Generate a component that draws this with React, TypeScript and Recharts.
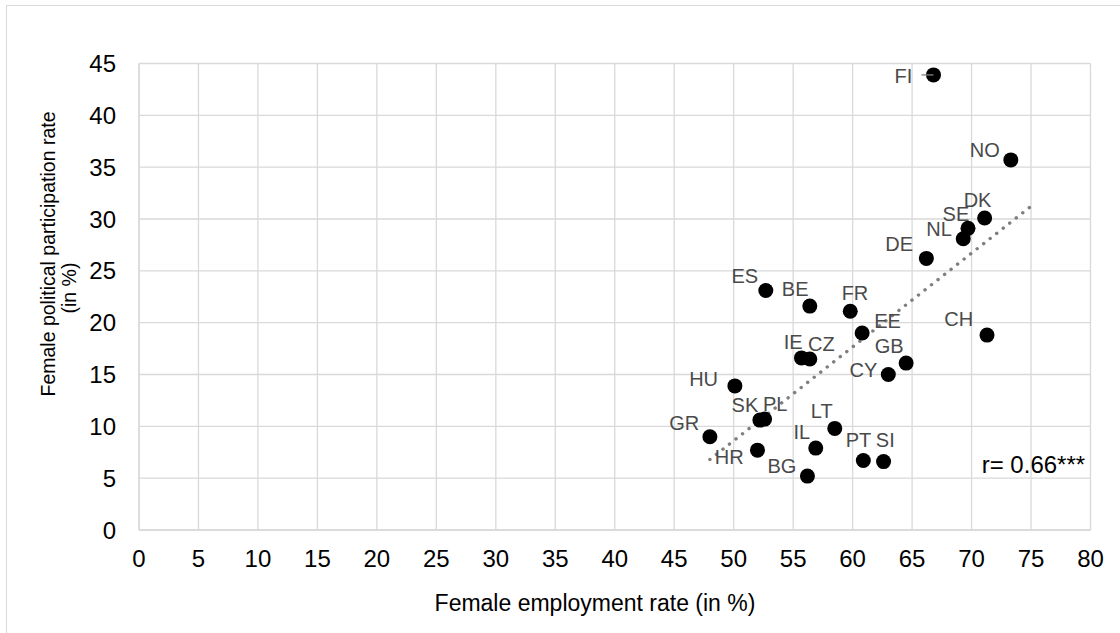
import React from 'react';
import {
  ScatterChart,
  Scatter,
  XAxis,
  YAxis,
  CartesianGrid,
  ReferenceLine,
  Label,
} from 'recharts';

// Country codes and their values (female employment rate, female political participation rate, both in %)
const countries = ['FI', 'NO', 'DK', 'SE', 'NL', 'DE', 'CH', 'GB', 'CY', 'EE', 'FR', 'PT', 'SI', 'BE', 'ES', 'IE', 'CZ', 'HU', 'SK', 'PL', 'GR', 'HR', 'LT', 'IL', 'BG'];
const employmentRate = [66.8, 73.3, 71.1, 69.7, 69.3, 66.2, 71.3, 64.5, 63.0, 60.8, 59.8, 60.9, 62.6, 56.4, 52.7, 55.7, 56.4, 50.1, 52.2, 52.6, 48.0, 52.0, 58.5, 56.9, 56.2];
const politicalRate = [43.9, 35.7, 30.1, 29.1, 28.1, 26.2, 18.8, 16.1, 15.0, 19.0, 21.1, 6.7, 6.6, 21.6, 23.1, 16.6, 16.5, 13.9, 10.6, 10.7, 9.0, 7.7, 9.8, 7.9, 5.2];

const xTicks = [0, 5, 10, 15, 20, 25, 30, 35, 40, 45, 50, 55, 60, 65, 70, 75, 80];
const yTicks = [0, 5, 10, 15, 20, 25, 30, 35, 40, 45];

// Linear trend line end points
const trendX = [48.0, 75.3];
const trendY = [6.8, 31.5];

const correlationText = 'r= 0.66***';
const xTitle = 'Female employment rate (in %)';
const yTitleLines = ['Female political participation rate', '(in %)'];

// Label placement relative to each marker: [left offset, baseline offset] in px
const labelPlacement: Record<string, [number, number]> = {
  FI: [-39, 7.6],
  NO: [-41, -3],
  DK: [-21, -10.6],
  SE: [-25.4, -7.8],
  NL: [-37, -2.5],
  DE: [-41, -7.3],
  CH: [-42.7, -9.3],
  GB: [-31.4, -10.3],
  CY: [-38.7, 2.7],
  EE: [12, -5],
  FR: [-8.6, -11],
  PT: [-17.6, -13.6],
  SI: [-7.7, -15],
  BE: [-28, -10.3],
  ES: [-34.3, -8],
  IE: [-17.7, -8.7],
  CZ: [-1.7, -8.3],
  HU: [-45.7, 0],
  SK: [-28.3, -8.3],
  PL: [-1.7, -8],
  GR: [-40.7, -6.7],
  HR: [-42.7, 14.3],
  LT: [-24, -10.7],
  IL: [-22.3, -9.3],
  BG: [-40, -2.7],
};

const points = countries.map((code, i) => ({
  code,
  x: employmentRate[i],
  y: politicalRate[i],
}));

const FONT = 'Arial, "Liberation Sans", sans-serif';
const GRID = '#d9d9d9';

const renderPoint = (props: any) => {
  const { cx, cy, payload } = props;
  const [lx, by] = labelPlacement[payload.code] ?? [8, -8];
  return (
    <g>
      <circle cx={cx} cy={cy} r={7.5} fill="#000000" />
      {payload.code === 'FI' && (
        <line x1={cx - 12} y1={cy} x2={cx} y2={cy} stroke="#808080" strokeWidth={1.3} />
      )}
      <text x={cx + lx} y={cy + by} fontSize={20} fill="#4a4a4a" fontFamily={FONT}>
        {payload.code}
      </text>
    </g>
  );
};

const XTitle = () => (
  <text x={595} y={610.7} textAnchor="middle" fontSize={23} fill="#000000" fontFamily={FONT}>
    {xTitle}
  </text>
);

const YTitle = () => (
  <g>
    <text
      x={55}
      y={254}
      transform="rotate(-90, 55, 254)"
      textAnchor="middle"
      fontSize={19.5}
      fill="#000000"
      fontFamily={FONT}
    >
      {yTitleLines[0]}
    </text>
    <text
      x={76}
      y={288}
      transform="rotate(-90, 76, 288)"
      textAnchor="middle"
      fontSize={19.5}
      fill="#000000"
      fontFamily={FONT}
    >
      {yTitleLines[1]}
    </text>
  </g>
);

export default function App() {
  return (
    <div
      style={{
        position: 'absolute',
        left: 0,
        top: 0,
        width: 1120,
        height: 633,
        overflow: 'hidden',
        background: '#ffffff',
        fontFamily: FONT,
      }}
    >
      <div
        style={{
          position: 'absolute',
          left: 6,
          top: 5,
          width: 1130,
          height: 650,
          border: `1.5px solid ${GRID}`,
          boxSizing: 'border-box',
        }}
      />
      <div style={{ position: 'absolute', left: 0, top: 0 }}>
        <ScatterChart
          width={1120}
          height={633}
          margin={{ top: 63.5, right: 29.5, bottom: 0, left: 0 }}
        >
          <CartesianGrid stroke={GRID} strokeWidth={1.3} />
          <XAxis
            type="number"
            dataKey="x"
            domain={[0, 80]}
            ticks={xTicks}
            interval={0}
            height={103}
            tickSize={0}
            tickMargin={20}
            tickLine={false}
            axisLine={{ stroke: GRID, strokeWidth: 1.3 }}
            tick={{ fontSize: 24, fill: '#000000', fontFamily: FONT }}
          >
            <Label content={<XTitle />} />
          </XAxis>
          <YAxis
            type="number"
            dataKey="y"
            domain={[0, 45]}
            ticks={yTicks}
            interval={0}
            width={139}
            tickSize={0}
            tickMargin={23}
            tickLine={false}
            axisLine={{ stroke: GRID, strokeWidth: 1.3 }}
            tick={{ fontSize: 24, fill: '#000000', fontFamily: FONT }}
          >
            <Label content={<YTitle />} />
          </YAxis>
          <Scatter data={points} shape={renderPoint} isAnimationActive={false} />
          <ReferenceLine
            segment={[
              { x: trendX[0], y: trendY[0] },
              { x: trendX[1], y: trendY[1] },
            ]}
            stroke="#7f7f7f"
            strokeWidth={3.4}
            strokeDasharray="0.1 8.2"
            strokeLinecap="round"
            ifOverflow="visible"
          />
          <ReferenceLine
            y={6.6}
            stroke="none"
            ifOverflow="visible"
            label={{
              value: correlationText,
              position: 'insideRight',
              content: () => (
                <text
                  x={981.7}
                  y={473}
                  fontSize={24}
                  fill="#000000"
                  fontFamily={FONT}
                >
                  {correlationText}
                </text>
              ),
            }}
          />
        </ScatterChart>
      </div>
    </div>
  );
}
